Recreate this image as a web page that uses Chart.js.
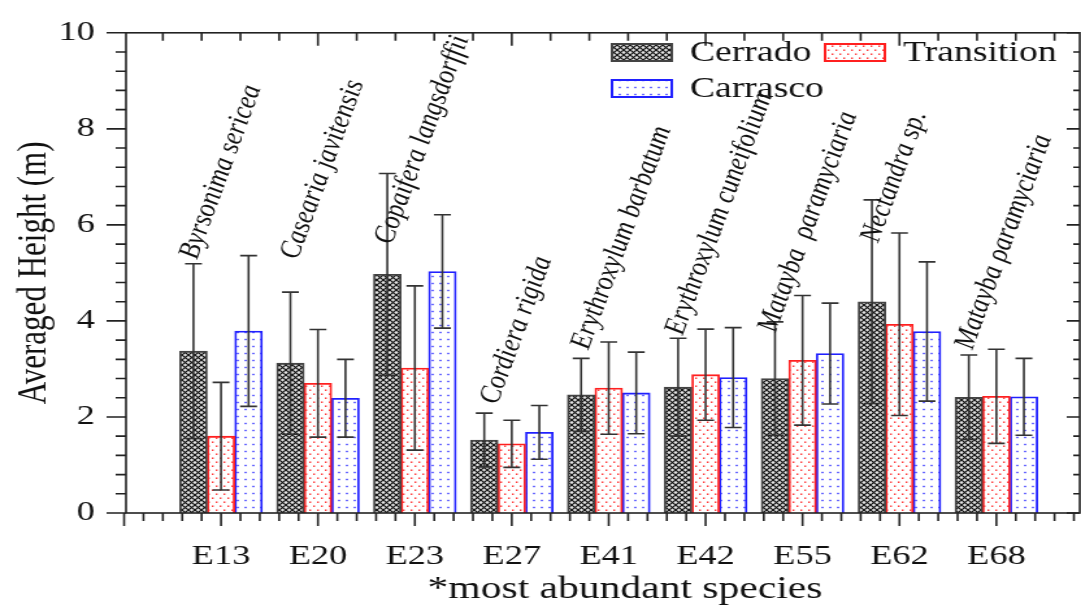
<!DOCTYPE html>
<html>
<head>
<meta charset="utf-8">
<script src="https://cdn.jsdelivr.net/npm/chart.js@4.4.1/dist/chart.umd.min.js"></script>
<style>
  html, body { margin: 0; padding: 0; background: #fff; overflow: hidden; }
  /* the source figure is stretched sideways, so draw narrow and widen */
  #wrap { width: 832px; height: 605px; transform: scaleX(1.2993); transform-origin: 0 0; }
</style>
</head>
<body>
<div id="wrap"><canvas id="myChart" width="832" height="605"></canvas></div>
<script>
const categories = ['E13', 'E20', 'E23', 'E27', 'E41', 'E42', 'E55', 'E62', 'E68'];
const species = ['Byrsonima sericea', 'Casearia javitensis', 'Copaifera langsdorffii', 'Cordiera rigida',
    'Erythroxylum barbatum', 'Erythroxylum cuneifolium', 'Matayba  ρaramyciaria', 'Nectandra sp.',
    'Matayba ρaramyciaria'];

const cerrado = [3.37, 3.12, 4.97, 1.52, 2.46, 2.62, 2.80, 4.40, 2.41];
const cerradoSd = [1.82, 1.48, 2.10, 0.56, 0.76, 1.02, 1.18, 2.12, 0.88];
const transition = [1.60, 2.70, 3.02, 1.44, 2.60, 2.88, 3.18, 3.93, 2.43];
const transitionSd = [1.12, 1.12, 1.71, 0.49, 0.96, 0.95, 1.35, 1.90, 0.98];
const carrasco = [3.79, 2.39, 5.03, 1.68, 2.50, 2.82, 3.32, 3.78, 2.42];
const carrascoSd = [1.57, 0.81, 1.18, 0.56, 0.85, 1.04, 1.05, 1.45, 0.80];

// where each species name starts (x in category units, y in metres)
const labelX = [0.75, 1.79, 2.76, 3.85, 4.79, 5.76, 6.72, 7.78, 8.75];
const labelY = [5.27, 5.27, 5.58, 2.25, 3.39, 3.69, 3.75, 5.62, 3.39];

const yTicks = [0, 2, 4, 6, 8, 10];

const serif = '"Liberation Serif", "Times New Roman", serif';
const ctx = document.getElementById('myChart').getContext('2d');

let makePattern = (w, h, draw) => {
    const c = document.createElement('canvas');
    c.width = w;
    c.height = h;
    draw(c.getContext('2d'), w, h);
    return ctx.createPattern(c, 'repeat');
};

const hatch = makePattern(5, 5, (g, w, h) => {
    g.fillStyle = '#e2e2e2';
    g.fillRect(0, 0, w, h);
    g.strokeStyle = '#111';
    g.lineWidth = 1.2;
    g.beginPath();
    g.moveTo(-1, -1); g.lineTo(w + 1, h + 1);
    g.moveTo(w + 1, -1); g.lineTo(-1, h + 1);
    g.stroke();
});
const redDots = makePattern(6, 8, (g, w, h) => {
    g.fillStyle = '#fff';
    g.fillRect(0, 0, w, h);
    g.fillStyle = '#ff2a2a';
    g.fillRect(1, 1.5, 1.4, 1.4);
    g.fillRect(4, 5.5, 1.4, 1.4);
});
const blueDots = makePattern(6, 7, (g, w, h) => {
    g.fillStyle = '#fff';
    g.fillRect(0, 0, w, h);
    g.fillStyle = '#2a2aff';
    g.fillRect(2.3, 2.8, 1.4, 1.4);
});

const sdSeries = [cerradoSd, transitionSd, carrascoSd];

const chartData = {
    datasets: [{
        label: 'Cerrado',
        data: cerrado.map((v, i) => ({ x: i + 1, y: v })),
        backgroundColor: hatch,
        borderColor: '#444',
        borderWidth: 1.8
    }, {
        label: 'Transition',
        data: transition.map((v, i) => ({ x: i + 1, y: v })),
        backgroundColor: redDots,
        borderColor: '#ff2020',
        borderWidth: 1.8
    }, {
        label: 'Carrasco',
        data: carrasco.map((v, i) => ({ x: i + 1, y: v })),
        backgroundColor: blueDots,
        borderColor: '#2020ff',
        borderWidth: 1.8
    }]
};

const extras = {
    id: 'extras',
    afterDatasetsDraw(chart) {
        const { ctx, scales: { y } } = chart;
        ctx.save();
        ctx.strokeStyle = '#333';
        ctx.lineWidth = 1.6;
        chart.data.datasets.forEach((ds, di) => {
            const meta = chart.getDatasetMeta(di);
            meta.data.forEach((bar, i) => {
                const v = ds.data[i].y;
                const sd = sdSeries[di][i];
                const t = y.getPixelForValue(v + sd);
                const b = y.getPixelForValue(v - sd);
                const cap = 6.5;
                ctx.beginPath();
                ctx.moveTo(bar.x, t); ctx.lineTo(bar.x, b);
                ctx.moveTo(bar.x - cap, t); ctx.lineTo(bar.x + cap, t);
                ctx.moveTo(bar.x - cap, b); ctx.lineTo(bar.x + cap, b);
                ctx.stroke();
            });
        });
        ctx.restore();
    },
    afterDraw(chart) {
        const { ctx, chartArea: a, scales: { x, y } } = chart;
        ctx.save();
        ctx.strokeStyle = '#222';
        ctx.lineWidth = 1.6;
        ctx.strokeRect(a.left, a.top, a.right - a.left, a.bottom - a.top);

        ctx.beginPath();
        // bottom ticks, outward
        for (let k = 0; k <= 49; k++) {
            const px = x.getPixelForValue(k * 0.2);
            if (px < a.left - 3 || px > a.right) continue;
            const len = k % 5 === 0 ? 13 : 8;
            ctx.moveTo(px, a.bottom); ctx.lineTo(px, a.bottom + len);
        }
        // top ticks, inward
        for (let k = 1; k <= 24; k++) {
            const px = x.getPixelForValue(k * 0.4);
            if (px > a.right) continue;
            const len = k % 5 === 0 ? 13 : 8;
            ctx.moveTo(px, a.top); ctx.lineTo(px, a.top + len);
        }
        // left ticks outward, right ticks inward
        for (let k = 0; k <= 25; k++) {
            const py = y.getPixelForValue(k * 0.4);
            const major = k % 5 === 0;
            ctx.moveTo(a.left, py); ctx.lineTo(a.left - (major ? 15 : 8), py);
            ctx.moveTo(a.right, py); ctx.lineTo(a.right - (major ? 10 : 5), py);
        }
        ctx.stroke();

        // species names
        ctx.fillStyle = '#111';
        ctx.font = 'italic 24px ' + serif;
        ctx.textBaseline = 'alphabetic';
        ctx.textAlign = 'left';
        species.forEach((s, i) => {
            ctx.save();
            ctx.translate(x.getPixelForValue(labelX[i]), y.getPixelForValue(labelY[i]));
            ctx.rotate(-74 * Math.PI / 180);
            ctx.fillText(s, 0, 0);
            ctx.restore();
        });

        // legend
        const items = [[0, 471, 44], [1, 635, 44], [2, 471, 80]];
        ctx.font = '29px ' + serif;
        items.forEach(([di, bx, by]) => {
            const ds = chart.data.datasets[di];
            ctx.fillStyle = ds.backgroundColor;
            ctx.fillRect(bx, by, 46, 17);
            ctx.strokeStyle = ds.borderColor;
            ctx.lineWidth = 2;
            ctx.strokeRect(bx, by, 46, 17);
            ctx.fillStyle = '#111';
            ctx.fillText(ds.label, bx + 60, by + 17);
        });

        // x axis title
        ctx.font = '32px ' + serif;
        ctx.textAlign = 'center';
        ctx.fillText('*most abundant species', 481, 598);
        ctx.restore();
    }
};

const config = {
    type: 'bar',
    data: chartData,
    options: {
        responsive: false,
        devicePixelRatio: 1,
        animation: false,
        layout: { padding: { top: 20, right: 1, left: 0, bottom: 0 } },
        datasets: { bar: { barThickness: 21.2 } },
        plugins: { legend: { display: false }, tooltip: { enabled: false } },
        scales: {
            x: {
                type: 'linear',
                min: 0.02,
                max: 9.86,
                offset: false,
                grid: { display: false },
                border: { display: false },
                afterBuildTicks: (s) => { s.ticks = categories.map((c, i) => ({ value: i + 1 })); },
                afterFit: (s) => { s.height = 92; },
                ticks: {
                    autoSkip: false,
                    maxRotation: 0,
                    padding: 19,
                    color: '#111',
                    font: { family: serif, size: 28 },
                    callback: (v) => categories[Math.round(v) - 1] || ''
                }
            },
            y: {
                min: 0,
                max: 10,
                grid: { display: false },
                border: { display: false },
                afterBuildTicks: (s) => { s.ticks = yTicks.map((v) => ({ value: v })); },
                afterFit: (s) => { s.width = 97; },
                ticks: { padding: 16, color: '#111', font: { family: serif, size: 28 } },
                title: {
                    display: true,
                    text: 'Averaged Height (m)',
                    color: '#111',
                    padding: { top: 11, bottom: 0 },
                    font: { family: serif, size: 31, lineHeight: 1 }
                }
            }
        }
    },
    plugins: [extras]
};

const myChart = new Chart(ctx, config);
</script>
</body>
</html>
